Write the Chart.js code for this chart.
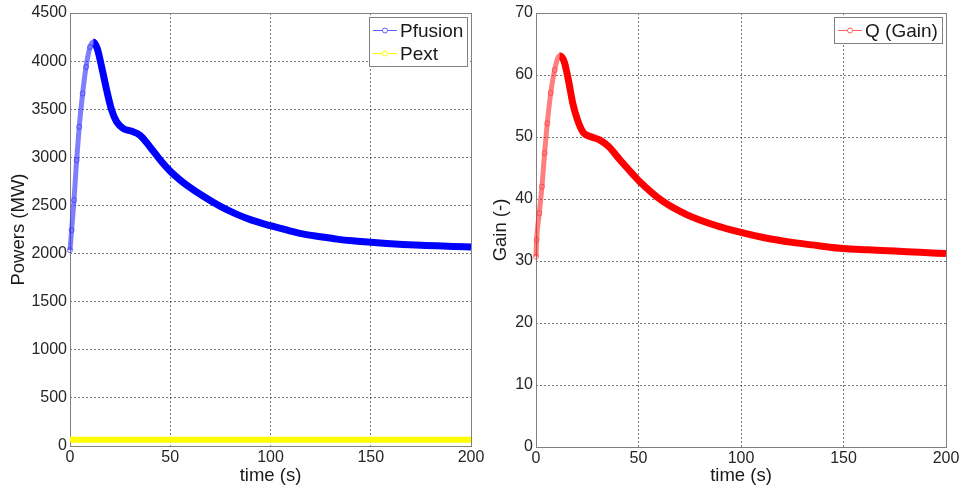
<!DOCTYPE html>
<html>
<head>
<meta charset="utf-8">
<script src="https://cdn.jsdelivr.net/npm/chart.js@4.4.0/dist/chart.umd.min.js"></script>
<style>
  html, body { margin: 0; padding: 0; background: #fff; overflow: hidden; }
  #wrap { position: relative; width: 962px; height: 490px; }
  #grafFusao { position: absolute; left: 0; top: 0; }
  #grafGanho { position: absolute; left: 480px; top: 0; }
</style>
</head>
<body>
<div id="wrap">
  <canvas id="grafFusao" width="500" height="490"></canvas>
  <canvas id="grafGanho" width="482" height="490"></canvas>
</div>
<script>
// ========== Dados ==========

const tFusion = [0, 0.8, 2, 3.3, 4.6, 6.3, 8, 10, 11.6, 13.6, 15.8, 18.3, 20.8, 23.3, 26.6, 30.8, 34.9, 39.9, 44.9, 49.9,
  54.9, 58.2, 66.5, 75, 83, 91, 100, 108, 116, 125, 133, 141, 150, 158, 166, 175, 183, 191, 200];
const pFusion = [2035, 2243, 2555, 2970, 3316, 3663, 3939, 4147, 4199, 4130, 3939, 3697, 3489, 3368, 3299, 3271, 3230, 3108, 2975, 2858,
  2765, 2712, 2595, 2490, 2410, 2345, 2290, 2245, 2205, 2175, 2150, 2132, 2118, 2105, 2095, 2087, 2080, 2074, 2068];

const tExt = [0, 50, 100, 150, 200];
const pExt = [66, 66, 66, 66, 66];

const tGain = [0, 0.3, 1.6, 2.9, 4.2, 5.5, 7.2, 9.1, 11.4, 13.7, 15.8, 17.9, 20.2, 23.1, 27.2, 31.2, 35.3, 41, 47.5, 50,
  62, 74, 87, 100, 112, 125, 137, 150, 162, 175, 187, 200];
const qGain = [30.7, 33.4, 37.7, 42.0, 47.4, 52.2, 57.1, 60.8, 63.1, 62.2, 59.2, 55.5, 52.8, 50.7, 50.0, 49.5, 48.5, 46.3, 43.9, 43.0,
  39.6, 37.4, 35.8, 34.6, 33.7, 33.0, 32.5, 32.0, 31.8, 31.6, 31.4, 31.2];

const xTicks = [0, 50, 100, 150, 200];
const yTicksPower = [0, 500, 1000, 1500, 2000, 2500, 3000, 3500, 4000, 4500];
const yTicksGain = [0, 10, 20, 30, 40, 50, 60, 70];

// ========== Estilo ==========

Chart.defaults.font.family = '"Liberation Sans", Arial, Helvetica, sans-serif';
Chart.defaults.color = '#262626';
Chart.defaults.animation = false;

const corGrade = 'rgba(60,60,60,0.7)';
const corCaixa = '#808080';

function pares(xs, ys) {
  return xs.map((x, i) => ({ x: x, y: ys[i] }));
}

// caixa dos eixos + legenda dentro da área (estilo MATLAB)
const caixaLegenda = {
  id: 'caixaLegenda',
  beforeDatasetsDraw(chart) {
    const a = chart.chartArea;
    const ctx = chart.ctx;
    ctx.save();
    ctx.strokeStyle = corCaixa;
    ctx.lineWidth = 1;
    ctx.strokeRect(Math.round(a.left) + 0.5, Math.round(a.top) + 0.5,
      Math.round(a.right) - Math.round(a.left), Math.round(a.bottom) - Math.round(a.top));
    ctx.restore();
  },
  afterDraw(chart) {
    const a = chart.chartArea;
    const ctx = chart.ctx;
    const sets = chart.data.datasets;
    ctx.save();
    ctx.font = '19px "Liberation Sans", Arial, sans-serif';
    const larguraTexto = Math.max(...sets.map(d => ctx.measureText(d.label).width));
    const w = Math.round(31 + larguraTexto + 4);
    const h = 26 + 23 * (sets.length - 1);
    const x = Math.round(a.right) - 4 - w;
    const y = Math.round(a.top) + 4;
    ctx.fillStyle = '#fff';
    ctx.fillRect(x, y, w, h);
    ctx.strokeStyle = corCaixa;
    ctx.lineWidth = 1;
    ctx.strokeRect(x + 0.5, y + 0.5, w, h);
    sets.forEach((d, i) => {
      const cy = Math.round(y + 13 + 23 * i) + 0.5;
      ctx.strokeStyle = d.corLegenda;
      ctx.lineWidth = 1;
      ctx.beginPath();
      ctx.moveTo(x + 4, cy);
      ctx.lineTo(x + 28, cy);
      ctx.stroke();
      ctx.fillStyle = '#fff';
      ctx.beginPath();
      ctx.arc(x + 16, cy, 2.5, 0, Math.PI * 2);
      ctx.fill();
      ctx.stroke();
      ctx.fillStyle = '#1a1a1a';
      ctx.textBaseline = 'middle';
      ctx.fillText(d.label, x + 31, cy + 1);
    });
    ctx.restore();
  }
};

function serieGrossa(label, xs, ys, cor, corClara, corLegenda) {
  const iPico = ys.indexOf(Math.max(...ys));
  return {
    label: label,
    data: pares(xs, ys),
    corLegenda: corLegenda,
    borderColor: cor,
    borderWidth: 7,
    cubicInterpolationMode: 'monotone',
    pointRadius: c => c.dataIndex < iPico ? 2.5 : 0,
    pointBorderWidth: 1,
    pointBorderColor: corClara,
    pointBackgroundColor: 'rgba(255,255,255,0)',
    segment: {
      borderColor: c => c.p1DataIndex <= iPico ? corClara : undefined,
      borderWidth: c => c.p1DataIndex <= iPico ? 5 : undefined
    },
    clip: false
  };
}

function eixoX(altura) {
  return {
    type: 'linear',
    min: 0,
    max: 200,
    afterBuildTicks: s => { s.ticks = xTicks.map(v => ({ value: v })); },
    ticks: { padding: 2, maxRotation: 0, font: { size: 16 }, callback: v => String(v) },
    grid: {
      drawTicks: false,
      color: c => (c.tick.value === 0 || c.tick.value === 200) ? 'rgba(0,0,0,0)' : corGrade
    },
    border: { display: false, dash: [2, 2] },
    title: { display: true, text: 'time (s)', color: '#1a1a1a', font: { size: 18.5 }, padding: { top: 0, bottom: 3 } },
    afterFit: s => { s.height = altura; }
  };
}

function eixoY(ticks, titulo, largura, padTitulo) {
  const max = ticks[ticks.length - 1];
  return {
    type: 'linear',
    min: 0,
    max: max,
    afterBuildTicks: s => { s.ticks = ticks.map(v => ({ value: v })); },
    ticks: { padding: 3, font: { size: 16 }, callback: v => String(v) },
    grid: {
      drawTicks: false,
      color: c => (c.tick.value === 0 || c.tick.value === max) ? 'rgba(0,0,0,0)' : corGrade
    },
    border: { display: false, dash: [2, 2] },
    title: { display: true, text: titulo, color: '#1a1a1a', font: { size: 18.5 }, padding: { top: padTitulo, bottom: 0 } },
    afterFit: s => { s.width = largura; }
  };
}

// ========== Gráfico 1: potências ==========

new Chart(document.getElementById('grafFusao'), {
  type: 'line',
  data: {
    datasets: [
      serieGrossa('Pfusion', tFusion, pFusion, '#0000ff', 'rgba(40,40,255,0.6)', '#6060ff'),
      {
        label: 'Pext',
        data: pares(tExt, pExt),
        corLegenda: '#ffff00',
        borderColor: '#ffff00',
        borderWidth: 6,
        pointRadius: 0,
        clip: false
      }
    ]
  },
  options: {
    responsive: false,
    layout: { padding: { top: 13, right: 29, bottom: 0, left: 0 } },
    plugins: { legend: { display: false }, tooltip: { enabled: false } },
    scales: {
      x: eixoX(44),
      y: eixoY(yTicksPower, 'Powers (MW)', 70, 7.5)
    }
  },
  plugins: [caixaLegenda]
});

// ========== Gráfico 2: ganho ==========

new Chart(document.getElementById('grafGanho'), {
  type: 'line',
  data: {
    datasets: [
      serieGrossa('Q (Gain)', tGain, qGain, '#ff0000', 'rgba(255,40,40,0.6)', '#ff6060')
    ]
  },
  options: {
    responsive: false,
    layout: { padding: { top: 13, right: 16, bottom: 0, left: 0 } },
    plugins: { legend: { display: false }, tooltip: { enabled: false } },
    scales: {
      x: eixoX(43),
      y: eixoY(yTicksGain, 'Gain (-)', 56, 10)
    }
  },
  plugins: [caixaLegenda]
});
</script>
</body>
</html>
